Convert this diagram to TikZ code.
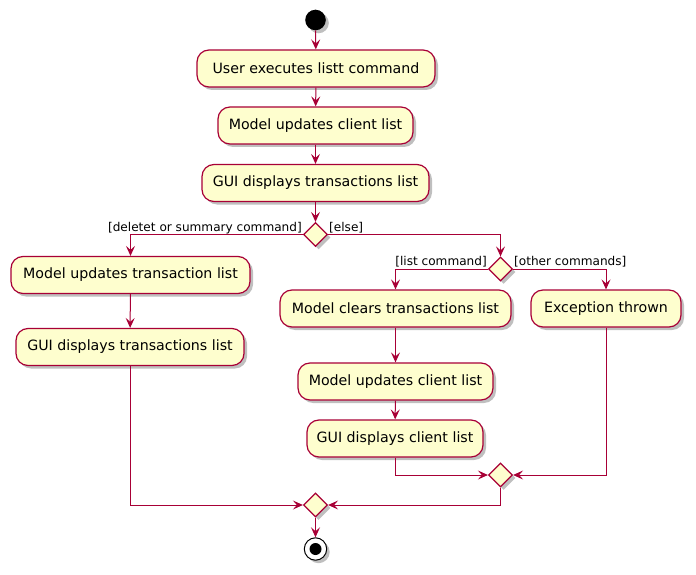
\documentclass[tikz,border=0pt]{standalone}
\usepackage{fontspec}
\setmainfont{DejaVu Sans}
\usetikzlibrary{arrows.meta,shapes.geometric,shadows}
\definecolor{umlred}{HTML}{A80036}
\definecolor{umlfill}{HTML}{FEFECE}
\tikzset{
  shad/.style={drop shadow={shadow xshift=3pt,shadow yshift=-3pt,opacity=0.25,fill=black}},
  act/.style={draw=umlred,fill=umlfill,line width=1.2pt,rounded corners=12pt,
    minimum height=37pt,inner xsep=8pt,font=\fontsize{14.2}{16}\selectfont,shad},
  dec/.style={diamond,draw=umlred,fill=umlfill,line width=1.2pt,inner sep=0pt,
    minimum width=24pt,minimum height=24pt,shad},
  arr/.style={draw=umlred,line width=1pt,-{Stealth[length=10pt,width=9pt,inset=4pt]}},
  lbl/.style={font=\fontsize{12.1}{14}\selectfont,inner sep=0pt},
}
\begin{document}
\begin{tikzpicture}[x=1pt,y=-1pt]
\useasboundingbox (0,0) rectangle (696,575);
\node[circle,fill=black,minimum size=20.6pt,inner sep=0pt,shad] (start) at (315.5,20) {};
\node[act,minimum width=238pt] (b1) at (316,68.5) {User executes listt command};
\node[act,minimum width=195pt] (b2) at (315.5,125.5) {Model updates client list};
\node[act,minimum width=227pt] (b3) at (315.5,183) {GUI displays transactions list};
\node[dec] (d1) at (315.5,234.5) {};
\node[act,minimum width=239pt] (l1) at (130.5,275) {Model updates transaction list};
\node[act,minimum width=228pt] (l2) at (130,347) {GUI displays transactions list};
\node[dec] (d2) at (500.5,269) {};
\node[act,minimum width=231pt] (r1) at (395.5,308.5) {Model clears transactions list};
\node[act,minimum width=150pt] (ex) at (606,308.5) {Exception thrown};
\node[act,minimum width=195pt] (r2) at (395.5,381.5) {Model updates client list};
\node[act,minimum width=176pt] (r3) at (395,438.5) {GUI displays client list};
\node[dec] (d3) at (500.5,475) {};
\node[dec] (d4) at (315.5,505) {};
\node[circle,draw=black,fill=white,line width=1pt,minimum size=22.4pt,inner sep=0pt,shad] (stop) at (315.5,549) {};
\node[circle,fill=black,minimum size=12pt,inner sep=0pt] (stopin) at (stop.center) {};
% labels
\node[lbl,anchor=base east] (la) at (302,231.5) {[deletet or summary command]};
\node[lbl,anchor=base west] (lb) at (329,231.5) {[else]};
\node[lbl,anchor=base east] (lc) at (487,265.5) {[list command]};
\node[lbl,anchor=base west] (ld) at (514,265.5) {[other commands]};
% connectors
\draw[arr] (start) -- (b1);
\draw[arr] (b1) -- (b2);
\draw[arr] (b2) -- (b3);
\draw[arr] (b3) -- (d1);
\draw[arr] (d1.west) -| (l1.north);
\draw[arr] (l1) -- (l2);
\draw[arr] (d1.east) -| (d2.north);
\draw[arr] (d2.west) -| (r1.north);
\draw[arr] (d2.east) -| (ex.north);
\draw[arr] (r1) -- (r2);
\draw[arr] (r2) -- (r3);
\draw[arr] (r3.south) |- (d3.west);
\draw[arr] (ex.south) |- (d3.east);
\draw[arr] (d3.south) |- (d4.east);
\draw[arr] (l2.south) |- (d4.west);
\draw[arr] (d4) -- (stop);
\end{tikzpicture}
\end{document}
